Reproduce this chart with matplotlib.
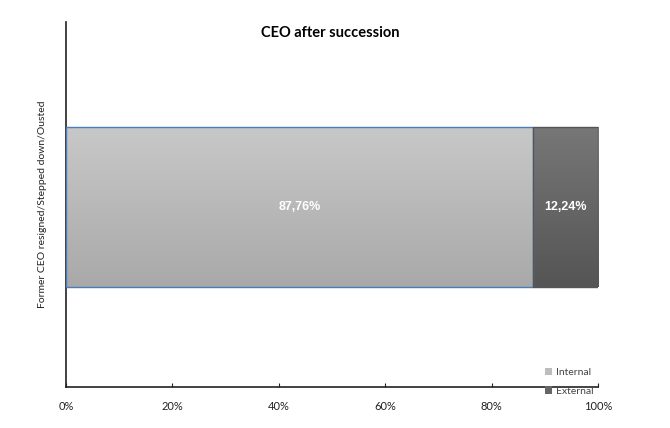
import numpy as np
import matplotlib.pyplot as plt
from matplotlib.colors import LinearSegmentedColormap
from matplotlib.patches import Patch
from matplotlib.ticker import PercentFormatter

plt.rcParams['font.family'] = ['Lato', 'DejaVu Sans']

# share of successor CEOs (former CEO resigned / stepped down / ousted)
categories = ['Former CEO resigned/Stepped down/Ousted']
series = ['Internal', 'External']
shares = [0.8776, 0.1224]
share_labels = ['87,76%', '12,24%']
colors_top = ['#c8c8c8', '#777777']
colors_bottom = ['#a9a9a9', '#555555']
edge_colors = ['#4a7ebb', '#555555']
legend_colors = ['#bdbdbd', '#666666']

fig = plt.figure(figsize=(6.7, 4.28), dpi=100)
ax = fig.add_axes([0.0985, 0.096, 0.794, 0.853])

bar_h = 0.44
left = 0.0
for name, val, lab, ct, cb, ec in zip(series, shares, share_labels,
                                      colors_top, colors_bottom, edge_colors):
    bars = ax.barh(0, val, left=left, height=bar_h, color=cb, edgecolor='none',
                   zorder=2)
    # vertical gradient fill clipped to the bar
    grad = np.linspace(0, 1, 100).reshape(-1, 1)
    cmap = LinearSegmentedColormap.from_list(name, [cb, ct])
    im = ax.imshow(grad, cmap=cmap, aspect='auto', origin='lower',
                   extent=[left, left + val, -bar_h / 2, bar_h / 2], zorder=2.5)
    im.set_clip_path(bars[0])
    ax.add_patch(plt.Rectangle((left, -bar_h / 2), val, bar_h, fill=False,
                               edgecolor=ec, linewidth=1.0, zorder=3))
    ax.text(left + val / 2, 0, lab, ha='center', va='center', color='white',
            fontsize=9, fontweight='bold', family=['Liberation Sans'], zorder=4)
    left += val

ax.set_xlim(0, 1)
ax.set_ylim(-0.493, 0.507)
ax.set_xticks([0, 0.2, 0.4, 0.6, 0.8, 1.0])
ax.xaxis.set_major_formatter(PercentFormatter(1.0, decimals=0))
ax.set_yticks([])
ax.tick_params(axis='x', direction='in', length=3, pad=10, labelsize=8,
               colors='#222222')
for s in ['top', 'right']:
    ax.spines[s].set_visible(False)
for s in ['left', 'bottom']:
    ax.spines[s].set_color('#222222')
    ax.spines[s].set_linewidth(1.2)

ax.set_ylabel(categories[0], fontsize=7.5, color='#222222', labelpad=14)
fig.text(0.493, 0.923, 'CEO after succession', ha='center', va='center',
         fontsize=10.5, fontweight='bold')

handles = [Patch(facecolor=c, edgecolor='none', label=n)
           for n, c in zip(series, legend_colors)]
ax.legend(handles=handles, loc='lower right', bbox_to_anchor=(1.01, -0.05),
          frameon=False, fontsize=7.5, handlelength=0.7, handleheight=0.7,
          labelspacing=0.9, handletextpad=0.4, labelcolor='#444444')

fig.savefig('out.png', dpi=100)
